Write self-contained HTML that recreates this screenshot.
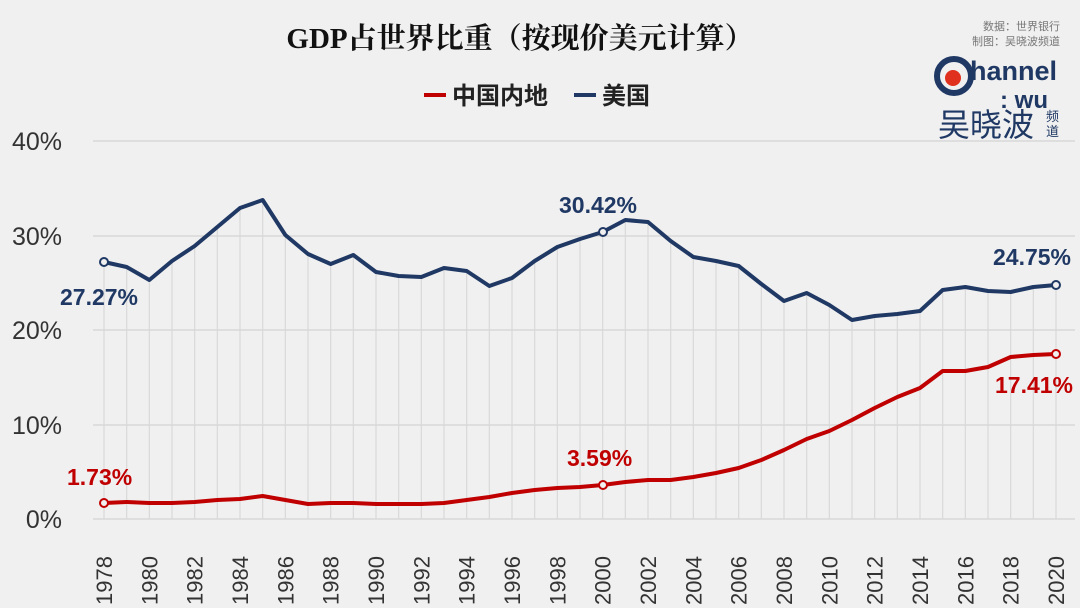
<!DOCTYPE html><html><head><meta charset="utf-8"><style>
body{margin:0;background:#f0f0f0;}
svg{display:block;font-family:"Liberation Sans","Noto Sans CJK SC",sans-serif;}
</style></head><body>
<svg width="1080" height="608" viewBox="0 0 1080 608">
<rect width="1080" height="608" fill="#f0f0f0"/>
<text x="520" y="48" text-anchor="middle" font-family="'Liberation Serif','Noto Serif CJK SC',serif" font-weight="bold" font-size="29" fill="#111">GDP占世界比重（按现价美元计算）</text>
<line x1="424" y1="95" x2="446" y2="95" stroke="#c00000" stroke-width="4"/>
<text x="452" y="104" font-size="24" font-weight="bold" fill="#222">中国内地</text>
<line x1="574" y1="95" x2="596" y2="95" stroke="#1f3864" stroke-width="4"/>
<text x="602" y="104" font-size="24" font-weight="bold" fill="#222">美国</text>
<text x="1060" y="30" text-anchor="end" font-size="11" fill="#777">数据：世界银行</text>
<text x="1060" y="45" text-anchor="end" font-size="11" fill="#777">制图：吴晓波频道</text>
<circle cx="954" cy="76" r="17" fill="none" stroke="#1f3864" stroke-width="6"/>
<circle cx="953" cy="78" r="8" fill="#e0301e"/>
<text x="970" y="80" font-size="27" font-weight="bold" fill="#1f3864">hannel</text>
<text x="1000" y="108" font-size="24" font-weight="bold" fill="#1f3864">: wu</text>
<text x="938" y="136" font-size="32" fill="#1f3864">吴晓波</text>
<text x="1046" y="121" font-size="13" fill="#1f3864">频</text>
<text x="1046" y="136" font-size="13" fill="#1f3864">道</text>
<g stroke="#d8d8d8" stroke-width="1.5">
<line x1="93" y1="141" x2="1075" y2="141"/><line x1="93" y1="236" x2="1075" y2="236"/><line x1="93" y1="330" x2="1075" y2="330"/><line x1="93" y1="425" x2="1075" y2="425"/><line x1="93" y1="519" x2="1075" y2="519"/>
</g>
<g font-size="25" fill="#333" text-anchor="end">
<text x="62" y="150">40%</text><text x="62" y="245">30%</text><text x="62" y="339">20%</text><text x="62" y="434">10%</text><text x="62" y="528">0%</text>
</g>
<g id="v" stroke="#d8d8d8" stroke-width="1.2"></g>
<polyline id="us" fill="none" stroke="#1f3864" stroke-width="4" stroke-linejoin="round"/>
<polyline id="cn" fill="none" stroke="#c00000" stroke-width="4" stroke-linejoin="round"/>
<g id="yl" font-size="22" fill="#333"></g>
<g fill="#f0f0f0" stroke-width="2">
<circle cx="104" cy="262" r="4" stroke="#1f3864"/><circle cx="603" cy="232" r="4" stroke="#1f3864"/><circle cx="1056" cy="285" r="4" stroke="#1f3864"/>
<circle cx="104" cy="503" r="4" stroke="#c00000"/><circle cx="603" cy="485" r="4" stroke="#c00000"/><circle cx="1056" cy="354" r="4" stroke="#c00000"/>
</g>
<g font-size="23" font-weight="bold" fill="#1f3864">
<text x="60" y="305">27.27%</text><text x="559" y="213">30.42%</text><text x="993" y="265">24.75%</text>
</g>
<g font-size="23" font-weight="bold" fill="#c00000">
<text x="67" y="485">1.73%</text><text x="567" y="466">3.59%</text><text x="995" y="393">17.41%</text>
</g>
<script>
var us=[262,267,280,261,246,227,208,200,235,254,264,255,272,276,277,268,271,286,278,261,247,239,232,220,222,241,257,261,266,284,301,293,305,320,316,314,311,290,287,291,292,287,285];
var cn=[503,502,503,503,502,500,499,496,500,504,503,503,504,504,504,503,500,497,493,490,488,487,485,482,480,480,477,473,468,460,450,439,431,420,408,397,388,371,371,367,357,355,354];
var ns="http://www.w3.org/2000/svg",v=document.getElementById('v'),yl=document.getElementById('yl');
var pu=[],pc=[];
for(var i=0;i<43;i++){var x=104+i*952/42;pu.push(x+','+us[i]);pc.push(x+','+cn[i]);
var l=document.createElementNS(ns,'line');l.setAttribute('x1',x);l.setAttribute('x2',x);l.setAttribute('y1',519);l.setAttribute('y2',us[i]);v.appendChild(l);
if(i%2==0){var t=document.createElementNS(ns,'text');t.setAttribute('transform','translate('+(x+8)+',605) rotate(-90)');t.textContent=1978+i;yl.appendChild(t);}}
document.getElementById('us').setAttribute('points',pu.join(' '));
document.getElementById('cn').setAttribute('points',pc.join(' '));
</script>
</svg></body></html>
